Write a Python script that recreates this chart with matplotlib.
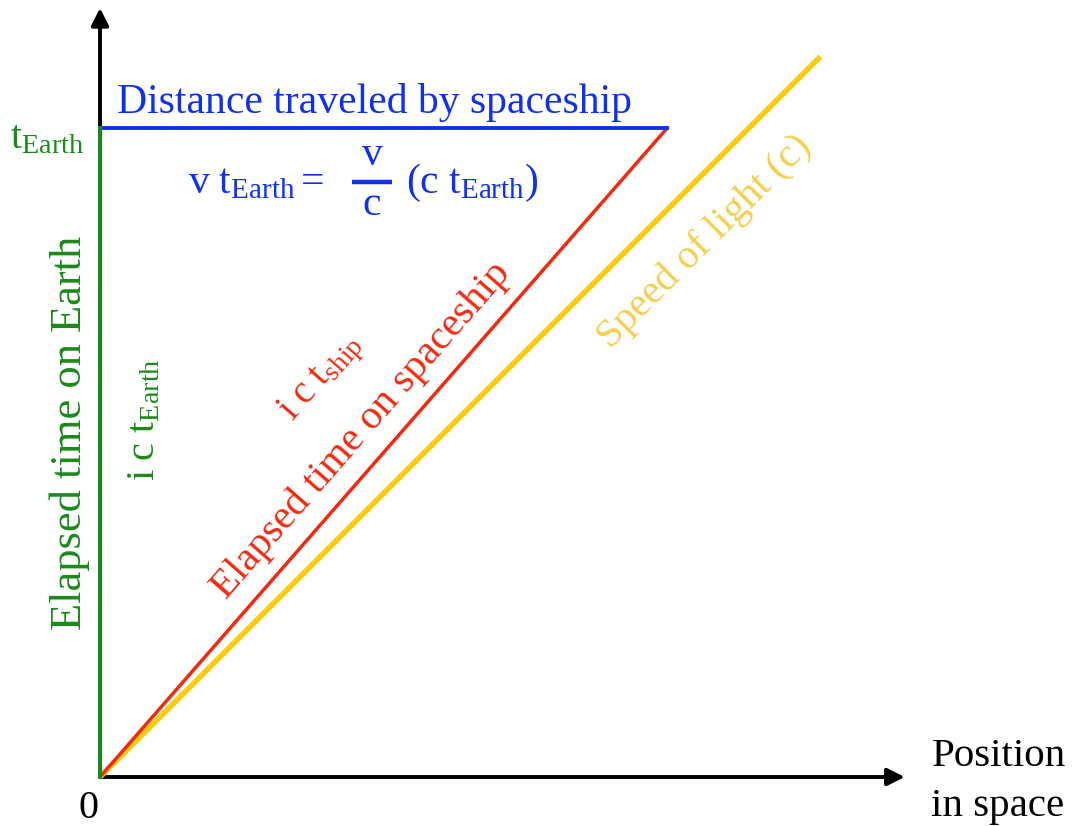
import matplotlib
matplotlib.use("Agg")
import matplotlib.pyplot as plt
import numpy as np

# ---- data (units: c*t_Earth = 1) ----
t_earth = 1.0          # elapsed time on Earth (height of the diagram)
v_over_c = 0.874       # spaceship speed as fraction of c
light_end = 1.11       # extent of the light line
x_axis_end = 1.24
y_axis_end = 1.185

plt.rcParams['font.family'] = ['Liberation Serif', 'DejaVu Serif']
plt.rcParams['mathtext.fontset'] = 'custom'
plt.rcParams['mathtext.rm'] = 'Liberation Serif'
plt.rcParams['mathtext.it'] = 'Liberation Serif:italic'

W, H = 1075, 826
fig = plt.figure(figsize=(W/100, H/100), dpi=100)
ax = fig.add_axes([0, 0, 1, 1])
ox, oy, s = 100, 777, 649.0
ax.set_xlim(-ox/s, (W-ox)/s)
ax.set_ylim((oy-H)/s, oy/s)
ax.axis('off')

def P(x, y):
    return ((x-ox)/s, (oy-y)/s)

BLUE = '#1030f0'
GREEN = '#1a8a1a'
RED = '#f02a10'
YEL = '#f8cc10'
YEL_T = '#f5cf50'

# axes arrows
ax.annotate('', xy=(x_axis_end, 0), xytext=(0, 0),
            arrowprops=dict(arrowstyle='-|>', lw=2.8, color='black', mutation_scale=26,
                            shrinkA=0, shrinkB=0))
ax.annotate('', xy=(0, y_axis_end), xytext=(0, 0),
            arrowprops=dict(arrowstyle='-|>', lw=2.8, color='black', mutation_scale=26,
                            shrinkA=0, shrinkB=0))

# lines
ax.plot([0, light_end], [0, light_end], color=YEL, lw=4.0, solid_capstyle='butt', zorder=3)
ax.plot([0, v_over_c], [0, t_earth], color=RED, lw=2.5, zorder=4)
ax.plot([0, v_over_c], [t_earth, t_earth], color=BLUE, lw=2.8, zorder=4)
ax.plot([0, 0], [0, t_earth], color=GREEN, lw=2.8, zorder=5)

# texts
ax.text(*P(117, 113), 'Distance traveled by spaceship', color=BLUE, fontsize=30,
        ha='left', va='baseline')
ax.text(*P(10, 148), r'$\mathrm{t_{Earth}}$', color=GREEN, fontsize=29, ha='left', va='baseline')

ax.text(*P(188, 193), r'$\mathrm{v\ t_{Earth}} =$', color=BLUE, fontsize=30, ha='left', va='baseline')
ax.text(*P(372, 165), 'v', color=BLUE, fontsize=30, ha='center', va='baseline')
ax.text(*P(372, 215), 'c', color=BLUE, fontsize=30, ha='center', va='baseline')
ax.plot([P(352, 0)[0], P(392, 0)[0]], [P(0, 182)[1]]*2, color=BLUE, lw=3.2,
        solid_capstyle='butt')
ax.text(*P(406, 193), r'$\mathrm{(c\ t_{Earth})}$', color=BLUE, fontsize=30, ha='left', va='baseline')

ax.text(*P(70, 433), 'Elapsed time on Earth', color=GREEN, fontsize=32, rotation=90,
        ha='center', va='center')
ax.text(*P(145, 420), r'$\mathrm{i\ c\ t_{Earth}}$', color=GREEN, fontsize=29, rotation=90,
        ha='center', va='center')

ang = np.degrees(np.arctan2(t_earth, v_over_c))
ax.text(*P(362, 430), 'Elapsed time on spaceship', color=RED, fontsize=29.5, rotation=ang,
        ha='center', va='center', rotation_mode='anchor')
ax.text(*P(322, 378), r'$\mathrm{i\ c\ t_{ship}}$', color=RED, fontsize=28, rotation=ang,
        ha='center', va='center', rotation_mode='anchor')
ax.text(*P(705, 242), 'Speed of light (c)', color=YEL_T, fontsize=29.5, rotation=45,
        ha='center', va='center', rotation_mode='anchor')

ax.text(*P(88, 818), '0', color='black', fontsize=29, ha='center', va='baseline')
ax.text(*P(999, 766), 'Position', color='black', fontsize=29.5, ha='center', va='baseline')
ax.text(*P(998, 816), 'in space', color='black', fontsize=29.5, ha='center', va='baseline')

fig.savefig('out.png', dpi=100)
